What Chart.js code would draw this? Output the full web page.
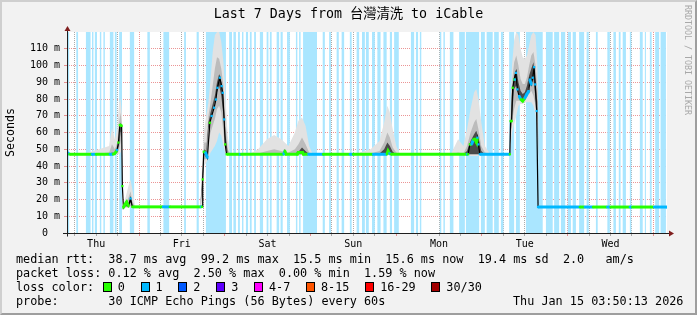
<!DOCTYPE html>
<html>
<head>
<meta charset="utf-8">
<script src="https://cdn.jsdelivr.net/npm/chart.js@4/dist/chart.umd.min.js"></script>
<style>
    body { margin: 0; background: #fff; }
    #graph {
        position: relative; width: 697px; height: 315px; box-sizing: border-box;
        background: #f2f2f2;
        border-top: 2px solid #cfcfcf; border-left: 2px solid #cfcfcf;
        border-right: 2px solid #9e9e9e; border-bottom: 2px solid #9e9e9e;
        font-family: "DejaVu Sans Mono", "Noto Sans CJK TC", monospace;
        color: #000;
    }
    #smoke { position: absolute; left: -2px; top: -2px; }
    #title { position: absolute; left: -2px; top: 4px; width: 697px; text-align: center; font-size: 13.3px; line-height: 16px; }
    #mark { position: absolute; left: 681px; top: 3px; writing-mode: vertical-rl; font-size: 8.3px; line-height: 10px; color: #a8a8a8; }
    #legend { position: absolute; left: 14px; top: 250px; font-size: 11.8px; line-height: 14px; white-space: pre; }
    #stamp { position: absolute; left: 511px; top: 292px; font-size: 11.8px; line-height: 14px; white-space: pre; }
    .b { display: inline-block; box-sizing: border-box; width: 9px; height: 10px; border: 1px solid #000; margin: 0 6px 0 1.5px; vertical-align: -1px; }
</style>
</head>
<body>
<div id="graph">
    <canvas id="smoke" width="697" height="315"></canvas>
    <div id="title">Last 7 Days from 台灣清洗 to iCable</div>
    <div id="mark">RRDTOOL / TOBI OETIKER</div>
    <div id="legend">median rtt:  38.7 ms avg  99.2 ms max  15.5 ms min  15.6 ms now  19.4 ms sd  2.0   am/s
packet loss: 0.12 % avg  2.50 % max  0.00 % min  1.59 % now
loss color: <i class="b" style="background:#26ff00"></i>0  <i class="b" style="background:#00b8ff"></i>1  <i class="b" style="background:#0059ff"></i>2  <i class="b" style="background:#5e00ff"></i>3  <i class="b" style="background:#ff00ff"></i>4-7  <i class="b" style="background:#ff5500"></i>8-15  <i class="b" style="background:#ff0000"></i>16-29  <i class="b" style="background:#a10000"></i>30/30
probe:       30 ICMP Echo Pings (56 Bytes) every 60s</div>
    <div id="stamp">Thu Jan 15 03:50:13 2026</div>
</div>
<script>
// hours since Thu Jan 8 03:50 (graph start), 168 h = 7 days
var dayNames = ['Thu', 'Fri', 'Sat', 'Sun', 'Mon', 'Tue', 'Wed'];
var firstNoon = 8.16;
var firstMidnight = 20.16;

var lossColors = ['#26ff00', '#00b8ff', '#0059ff', '#5e00ff'];

// median rtt (ms) and lost pings per step
var medX = [0, 0.7, 7.0, 8.1, 12.0, 12.9, 13.4, 14.0, 14.4, 14.8, 15.3, 15.5, 15.8, 16.2, 16.7, 17.2, 17.8, 18.3,
    26.9, 28.8, 37.5, 37.8, 38.0, 38.3, 38.8, 39.3, 40.0, 40.5, 41.2, 41.7, 42.1, 42.8, 43.3, 43.6, 44.0, 44.3, 44.7,
    48.4, 48.8, 60.7, 61.0, 61.3, 64.5, 64.7, 66.0, 66.2, 67.6, 71.7, 79.2, 80.1, 85.7, 89.6, 89.9, 90.3, 90.7,
    112.0, 112.3, 112.8, 113.3, 113.8, 114.2, 114.7, 114.9, 115.2, 115.6,
    124.0, 124.2, 124.5, 124.8, 125.2, 125.4, 125.7, 126.1, 126.6, 127.1, 127.6, 128.2, 128.7, 129.3, 129.6, 130.0,
    130.4, 130.8, 131.1, 131.5, 131.9, 143.6, 145.0, 147.3, 151.3, 152.2, 157.6, 158.3, 164.4, 168];
var medY = [48, 47, 47, 47, 47, 47, 47.5, 49.5, 54, 64.5, 64, 28, 15.2, 17, 18.5, 16, 20.6, 15.6,
    15.6, 15.6, 15.6, 15.6, 32, 48.5, 48, 45, 65.8, 69.8, 74.8, 79.7, 86.7, 92.7, 87.7, 83.7, 67.8, 52.9, 47,
    47, 47, 47, 49, 47, 47, 48, 48, 47, 47, 47, 47, 47, 47, 47, 49, 47.5, 47,
    47, 47, 52.9, 53, 55.9, 55.9, 53.9, 56.9, 52.9, 47,
    47, 66.8, 66.8, 86.7, 91.6, 91.6, 95.6, 85.7, 81.7, 79.7, 78.8, 80.5, 82.7, 84.7, 91.6, 88.7,
    92.7, 99.0, 88.7, 72.8, 15.5, 15.5, 15.5, 15.5, 15.5, 15.5, 15.5, 15.5, 15.5, 15.5];
var medLoss = [1, 0, 1, 0, 1, 0, 0, 1, 0, 0, 0, 0, 0, 0, 0, 0, 1, 0,
    1, 0, 1, 0, 0, 0, 1, 1, 0, 1, 1, 1, 1, 1, 1, 1, 1, 0, 0,
    1, 0, 1, 0, 0, 0, 0, 0, 0, 1, 0, 1, 0, 1, 0, 0, 1, 0,
    1, 0, 0, 1, 0, 0, 0, 1, 1, 1,
    0, 0, 0, 0, 0, 1, 1, 1, 1, 0, 0, 1, 1, 1, 1, 1,
    1, 1, 1, 1, 1, 0, 1, 0, 1, 0, 1, 0, 1, 1];

// smoke envelopes (ms), null = no smoke
var smokeX = [5.0, 9.0, 11.8, 12.6, 13.4, 14.1, 14.6, 15.0, 15.4, 15.6,
    15.8, 16.5, 17.2, 17.8, 18.3, 19.0, 20,
    37.3, 37.9, 38.4, 39.0, 39.6, 40.2, 40.8, 41.4, 42.0, 42.6, 43.2, 43.8, 44.4, 45.0, 45.6, 48,
    51.0, 53.5, 56.0, 58.0, 60.0, 62.0, 63.8, 64.8, 65.8, 66.8, 67.8, 68.8, 75,
    82.0, 85.0, 87.5, 88.8, 89.7, 90.4, 91.2, 92.2, 93.2, 100,
    107.5, 109.5, 111.0, 112.0, 113.0, 114.0, 114.6, 115.2, 116.0, 117.0, 118.5, 121,
    124.0, 124.6, 125.2, 125.8, 126.4, 127.0, 127.6, 128.2, 128.8, 129.4, 130.0, 130.6, 131.2, 131.7, 132.0];
var lightHi = [47.5, 50, 52, 63, 56, 62, 78, 80, 70, null,
    17, 22, 28, 32, 26, 16.5, null,
    16, 45, 62, 70, 78, 92, 108, 118, 120, 120, 114, 102, 80, 58, 49, null,
    47, 50, 56, 58.5, 56, 52, 60, 67, 69, 64, 52, 47, null,
    48, 50, 55, 66, 76, 72, 62, 52, 47, null,
    47, 56, 52, 62, 74, 84, 86, 80, 66, 52, 47, null,
    66, 100, 115, 120, 118, 110, 105, 104, 106, 112, 118, 120, 118, 100, 70];
var lightLo = [47, 47, 47, 47, 47, 47, 47, 48, 50, null,
    15, 15, 15.5, 15.5, 15.5, 15.5, null,
    15.5, 16, 40, 42, 45, 48, 50, 52, 55, 60, 58, 52, 47, 47, 47, null,
    47, 47, 47, 47, 47, 47, 47, 47, 47, 47, 47, 47, null,
    47, 47, 47, 47, 47, 47, 47, 47, 47, null,
    47, 47, 47, 47, 46, 46, 46, 46, 47, 47, 47, null,
    47, 60, 65, 70, 76, 77, 77, 78, 78, 78, 78, 76, 70, 62, 30];
var midHi = [47, 47.5, 48, 53, 50, 54, 66, 72, 64, null,
    15.8, 18, 21, 25, 19, 15.8, null,
    15.6, 36, 54, 54, 70, 78, 88, 98, 105, 104, 98, 88, 66, 50, 47.5, null,
    47, 47.5, 49, 50, 49, 48, 50, 53, 57, 53, 48, 47, null,
    47, 47.5, 49, 54, 60, 57, 51, 48, 47, null,
    47, 48, 47.5, 52, 60, 66, 68, 62, 52, 48, 47, null,
    58, 90, 102, 106, 100, 92, 89, 89, 93, 100, 106, 108, 100, 86, 58];
var midLo = [47, 47, 47, 47, 47, 47.5, 50, 54, 58, null,
    15.2, 15.5, 15.5, 16, 15.5, 15.5, null,
    15.5, 22, 44, 44, 54, 60, 64, 68, 74, 76, 72, 60, 49, 47, 47, null,
    47, 47, 47, 47, 47, 47, 47, 47, 47, 47, 47, 47, null,
    47, 47, 47, 47, 47, 47, 47, 47, 47, null,
    47, 47, 47, 47, 47, 47, 47, 47, 47, 47, 47, null,
    52, 66, 74, 79, 79, 79, 79, 80, 81, 83, 85, 82, 76, 68, 42];
var darkHi = [47, 47, 47, 48, 47.5, 50, 56, 66, 64, null,
    15.5, 17, 17.5, 21, 16.5, 15.6, null,
    15.6, 33, 50, 49, 66, 72, 77, 82, 90, 95, 90, 80, 58, 48, 47, null,
    47, 47, 47, 47.5, 47, 47, 47.5, 48.5, 51, 49, 47, 47, null,
    47, 47, 47.5, 50, 54, 52, 48.5, 47, 47, null,
    47, 47, 47, 49, 55, 59, 61, 57, 49, 47, 47, null,
    54, 84, 94, 98, 90, 85, 83, 84, 88, 94, 98, 102, 90, 78, 48];
var darkLo = [47, 47, 47, 47, 47, 48, 53, 60, 62, null,
    15.3, 16, 16, 18, 15.5, 15.5, null,
    15.5, 28, 47, 45, 62, 68, 73, 78, 84, 88, 82, 70, 52, 47, 47, null,
    47, 47, 47, 47, 47, 47, 47, 47, 47, 47, 47, 47, null,
    47, 47, 47, 47, 47, 47, 47, 47, 47, null,
    47, 47, 47, 47, 47, 47, 47, 47, 47, 47, 47, null,
    52, 70, 86, 88, 84, 80, 79, 81, 84, 87, 89, 92, 80, 72, 46];

// steps with packet loss (background bars)
var lossStart = [0.1, 2.6, 5.3, 7.0, 7.8, 9.2, 10.2, 12.0, 13.4, 14.6, 17.6, 22.5, 27.0, 32.8, 36.3, 38.9,
    45.4, 46.6, 47.9, 49.0, 50.1, 51.2, 52.4, 54.0, 55.9, 56.8, 58.7, 59.8, 61.6, 64.1, 65.0, 66.1,
    71.6, 73.4, 75.5, 76.9, 79.2, 81.1, 82.6, 83.7, 85.4, 86.9, 88.6, 90.4, 91.6, 96.3, 97.7, 98.8,
    104.4, 105.4, 107.2, 109.8, 111.7, 115.9, 117.5, 119.6, 121.5, 123.8, 125.7, 128.5, 134.1, 136.4,
    138.3, 140.2, 141.6, 143.4, 145.5, 148.1, 151.3, 153.0, 154.5, 155.6, 157.6, 160.4, 161.8, 163.2,
    164.7, 166.2];
var lossEnd = [0.6, 3.1, 6.6, 7.4, 8.4, 9.6, 10.6, 13.0, 13.9, 15.4, 18.8, 23.2, 28.6, 33.3, 36.9, 44.5,
    46.2, 47.3, 48.4, 49.4, 50.7, 51.7, 52.9, 54.9, 56.4, 57.3, 59.4, 60.4, 62.4, 64.5, 65.4, 70.0,
    72.2, 73.9, 76.1, 77.6, 79.7, 81.8, 83.4, 84.5, 86.2, 87.8, 89.5, 91.0, 92.9, 97.2, 98.3, 99.2,
    104.8, 105.8, 108.2, 111.4, 115.4, 117.0, 119.2, 120.9, 122.2, 125.2, 126.8, 133.2, 136.0, 137.8,
    139.5, 141.1, 142.5, 144.8, 146.1, 148.6, 152.0, 153.7, 155.0, 156.5, 158.0, 161.2, 162.1, 163.7,
    165.8, 167.7];

var yMax = 120;
var minorGrid = 'rgba(143,143,143,0.75)';
var majorGrid = 'rgba(222,79,79,0.6)';


function points(xs, ys) {
    return xs.map(function (x, i) {
        return {x: x, y: ys[i]};
    });
}

function lossPoints() {
    var pts = [{x: 0, y: 0}];
    for (var i = 0; i < lossStart.length; i++) {
        pts.push({x: lossStart[i], y: yMax});
        pts.push({x: lossEnd[i], y: 0});
    }
    pts.push({x: 168, y: 0});
    return pts;
}

function band(data, color, fill, order) {
    return {
        data: data, borderWidth: 0, pointRadius: 0, fill: fill,
        backgroundColor: color, order: order
    };
}

function near(v, base) {
    var r = ((v - base) % 24 + 24) % 24;
    return r < 0.01 || r > 23.99;
}

var frame = {
    id: 'frame',
    beforeDraw: function (chart) {
        var a = chart.chartArea, ctx = chart.ctx;
        ctx.save();
        ctx.fillStyle = '#ffffff';
        ctx.fillRect(a.left, a.top, a.right - a.left, a.bottom - a.top);
        ctx.restore();
    },
    afterDraw: function (chart) {
        var a = chart.chartArea, ctx = chart.ctx;
        var x0 = Math.round(a.left) + 0.5, y0 = Math.round(a.bottom) + 0.5;
        ctx.save();
        ctx.strokeStyle = '#1f1f1f';
        ctx.lineWidth = 1;
        ctx.beginPath();
        ctx.moveTo(x0, y0 + 3);
        ctx.lineTo(x0, a.top - 3);
        ctx.moveTo(a.left - 4, y0);
        ctx.lineTo(a.right + 3, y0);
        ctx.stroke();
        ctx.fillStyle = '#801f1f';
        ctx.beginPath();
        ctx.moveTo(x0, a.top - 6);
        ctx.lineTo(x0 - 3, a.top - 1);
        ctx.lineTo(x0 + 3, a.top - 1);
        ctx.closePath();
        ctx.fill();
        ctx.beginPath();
        ctx.moveTo(a.right + 7, y0);
        ctx.lineTo(a.right + 2, y0 - 3);
        ctx.lineTo(a.right + 2, y0 + 3);
        ctx.closePath();
        ctx.fill();
        ctx.restore();
    }
};

var tickFont = {family: 'DejaVu Sans Mono', size: 10};

new Chart(document.getElementById('smoke'), {
    type: 'line',
    data: {
        datasets: [
            {
                data: points(medX, medY), borderWidth: 3, order: 1,
                borderColor: '#26ff00',
                pointStyle: 'rect', pointRadius: 1.6, pointBorderWidth: 0,
                pointBackgroundColor: function (c) { return lossColors[medLoss[c.dataIndex]]; },
                segment: {
                    borderColor: function (c) {
                        if (Math.abs(c.p1.parsed.y - c.p0.parsed.y) > 3) return 'rgba(0,0,0,0)';
                        return lossColors[medLoss[c.p0DataIndex]];
                    }
                }
            },
            {data: points(medX, medY), borderWidth: 1.2, borderColor: '#000', pointRadius: 0, order: 2},
            band(points(smokeX, darkHi), '#4a4a4a', '+1', 10),
            band(points(smokeX, darkLo), '#4a4a4a', false, 10),
            band(points(smokeX, midHi), '#bcbcbc', '+1', 11),
            band(points(smokeX, midLo), '#bcbcbc', false, 11),
            band(points(smokeX, lightHi), '#e2e2e2', '+1', 12),
            band(points(smokeX, lightLo), '#e2e2e2', false, 12),
            {
                data: lossPoints(), stepped: true, borderWidth: 0, pointRadius: 0,
                fill: 'origin', backgroundColor: 'rgb(170,230,255)', order: 20
            }
        ]
    },
    options: {
        responsive: false,
        animation: false,
        events: [],
        layout: {padding: {left: 0, top: 32, right: 30, bottom: 0}},
        plugins: {legend: {display: false}, tooltip: {enabled: false}},
        scales: {
            x: {
                type: 'linear', min: 0, max: 168, z: 1,
                afterBuildTicks: function (axis) {
                    var ticks = [];
                    for (var h = firstNoon - 6; h < 168; h += 6) ticks.push({value: h});
                    axis.ticks = ticks;
                },
                afterFit: function (axis) { axis.height = 82; },
                grid: {
                    tickLength: 3,
                    color: function (c) {
                        return c.tick && near(c.tick.value, firstMidnight) ? majorGrid : minorGrid;
                    }
                },
                border: {display: false, dash: [1, 1]},
                ticks: {
                    autoSkip: false, maxRotation: 0, padding: 2, font: tickFont, color: '#000',
                    callback: function (v) {
                        if (!near(v, firstNoon)) return '';
                        return dayNames[Math.round((v - firstNoon) / 24)];
                    }
                }
            },
            y: {
                min: 0, max: yMax, z: 1,
                afterFit: function (axis) { axis.width = 67; },
                grid: {
                    tickLength: 3,
                    color: function (c) {
                        if (!c.tick || c.tick.value >= yMax) return 'rgba(0,0,0,0)';
                        return c.tick.value % 10 === 0 ? majorGrid : minorGrid;
                    }
                },
                border: {display: false, dash: [1, 1]},
                title: {display: true, text: 'Seconds', font: {family: 'DejaVu Sans Mono', size: 11.6}, color: '#000'},
                ticks: {
                    stepSize: 5, padding: 4, font: tickFont, color: '#000',
                    callback: function (v) {
                        if (v % 10 !== 0 || v >= yMax) return '';
                        return v === 0 ? '0  ' : v + ' m';
                    }
                }
            }
        }
    },
    plugins: [frame]
});
</script>
</body>
</html>
